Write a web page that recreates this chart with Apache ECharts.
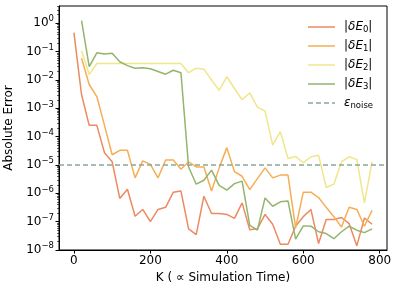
<!DOCTYPE html>
<html>
<head>
<meta charset="utf-8">
<script src="https://cdn.jsdelivr.net/npm/echarts@6/dist/echarts.min.js"></script>
<style>
html,body{margin:0;padding:0;background:#fff;}
#chart{width:399px;height:292px;}
</style>
</head>
<body>
<div id="chart"></div>
<script>
const kValues = [0,20,40,60,80,100,120,140,160,180,200,220,240,260,280,300,320,340,360,380,400,420,440,460,480,500,520,540,560,580,600,620,640,660,680,700,720,740,760,780];
const errE0 = [4.7e-1,3.0e-3,2.5e-4,2.5e-4,2.7e-5,1.3e-5,6.6e-7,1.4e-6,1.55e-7,2.7e-7,1.0e-7,2.7e-7,3.2e-7,1.1e-6,1.2e-6,5.6e-8,3.5e-8,7.9e-7,1.95e-7,1.95e-7,1.8e-7,1.3e-7,4.6e-7,5.2e-8,5.6e-8,1.8e-7,8.1e-8,1.6e-8,1.6e-8,6.9e-8,1.5e-7,2.7e-7,1.7e-8,1.2e-7,1.2e-7,1.4e-7,8.5e-8,1.4e-8,1.35e-7,8.1e-8];
const errE1 = [null,5.8e-2,6.9e-3,2.6e-3,2.5e-4,2.3e-5,3.3e-5,3.3e-5,3.5e-6,1.4e-5,1.05e-5,3.5e-6,1.5e-5,1.5e-5,7.1e-6,1.3e-5,8.5e-6,8.5e-6,1.2e-6,7.9e-6,4.1e-5,5.8e-6,4.0e-6,1.35e-6,3.3e-6,7.9e-6,3.5e-6,4.4e-6,4.4e-6,6.0e-8,1.1e-6,1.1e-6,7.1e-7,3.2e-7,1.5e-7,6.5e-8,3.2e-7,2.7e-7,6.9e-8,2.5e-7];
const errE2 = [null,1.07e-1,1.55e-2,3.8e-2,3.8e-2,3.8e-2,3.8e-2,3.8e-2,3.8e-2,3.8e-2,3.8e-2,3.8e-2,3.8e-2,3.8e-2,3.8e-2,1.8e-2,2.6e-2,2.4e-2,1.0e-2,4.3e-3,1.3e-2,5.0e-3,2.0e-3,3.5e-3,1.1e-3,7.9e-4,5.0e-5,1.5e-4,1.7e-5,2.0e-5,1.2e-5,1.95e-5,2.2e-5,1.6e-6,2.1e-6,1.3e-5,1.95e-5,1.55e-5,4.6e-7,1.3e-5];
const errE3 = [null,1.23,2.95e-2,9.1e-2,8.3e-2,8.7e-2,4.4e-2,3.2e-2,2.6e-2,2.7e-2,2.5e-2,2.0e-2,1.6e-2,2.2e-2,1.8e-2,8.5e-6,2.1e-6,2.9e-6,6.6e-6,1.9e-6,1.3e-6,2.2e-6,2.7e-6,7.4e-8,5.0e-8,6.9e-7,3.5e-7,5.0e-7,5.4e-7,2.4e-8,7.1e-8,6.9e-8,4.4e-8,3.8e-8,2.5e-8,4.4e-8,6.9e-8,5.0e-8,4.1e-8,5.6e-8];
const noiseLevel = 1e-5;
const xLimits = [-39, 819];
const yLimits = [1e-8, 4.07];
const xTickLabels = [0,200,400,600,800];
const yMajorTicks = [1e-8,1e-7,1e-6,1e-5,1e-4,1e-3,1e-2,1e-1,1e0];
const yMinorTicks = [];
[-8,-7,-6,-5,-4,-3,-2,-1,0].forEach(function(e){ for (let m=2;m<=9;m++){ const v=m*Math.pow(10,e); if (v<yLimits[1]) yMinorTicks.push(v);} });

const seriesNames = ['E0','E1','E2','E3'];
const seriesColors = ['#EC8A62','#F5AE55','#F0E68C','#93B56B'];
const noiseColor = '#8BA899';
const seriesData = [errE0, errE1, errE2, errE3];

const FONT = 'DejaVu Sans';
function pairs(vals){ return kValues.map(function(k,i){ return [k, vals[i]]; }).filter(function(p){ return p[1]!=null; }); }

const chart = echarts.init(document.getElementById('chart'), null, {renderer:'canvas'});
const series = seriesNames.map(function(n,i){
  return {name:n, type:'line', data:pairs(seriesData[i]), symbol:'none', showSymbol:false,
    lineStyle:{color:seriesColors[i], width:1.5}, itemStyle:{color:seriesColors[i]}, z:2+i, animation:false};
});
series.push({name:'noise', type:'line', data:[[xLimits[0], noiseLevel],[xLimits[1], noiseLevel]], symbol:'none',
  lineStyle:{color:noiseColor, width:1.3, type:[5,3]}, itemStyle:{color:noiseColor},
  animation:false, z:10});

const solidIcon = 'path://M0 0H27V1.5H0Z';
const dashIcon = 'path://M0 0H5V1.5H0Z M8 0H13V1.5H8Z M16 0H21V1.5H16Z M24 0H27V1.5H24Z';

const option = {
  animation:false,
  textStyle:{fontFamily:FONT},
  grid:{left:59, top:6, right:12, bottom:42, show:true, borderColor:'#000', borderWidth:1, containLabel:false, outerBoundsMode:'none'},
  legend:{orient:'vertical', left:303, top:14, itemWidth:27, itemHeight:1.5, itemGap:3,
    data:[{name:'E0',icon:solidIcon},{name:'E1',icon:solidIcon},{name:'E2',icon:solidIcon},{name:'E3',icon:solidIcon},{name:'noise',icon:dashIcon}],
    textStyle:{fontFamily:FONT, fontSize:12, color:'#000', lineHeight:16, padding:[0,0,0,4],
      rich:{it:{fontFamily:FONT, fontStyle:'italic', fontSize:12, lineHeight:16}, sub:{fontFamily:FONT, fontSize:8.5, padding:[6,0,0,0], lineHeight:16}, n:{fontFamily:FONT,fontSize:12, lineHeight:16}}},
    formatter:function(name){
      if (name==='noise') return '{it|ε}{sub|noise}';
      return '{n||}{it|δE}{sub|'+name.slice(1)+'}{n||}';
    }
  },
  xAxis:{type:'value', min:xLimits[0], max:xLimits[1],
    name:'K ( ∝ Simulation Time)', nameLocation:'middle', nameGap:22,
    nameTextStyle:{fontFamily:FONT, fontSize:12, color:'#000'},
    axisLine:{show:true, onZero:false, lineStyle:{color:'#000', width:1}},
    axisTick:{show:true, length:3.5, lineStyle:{color:'#000'}, customValues:xTickLabels},
    axisLabel:{color:'#000', fontSize:12, fontFamily:FONT, margin:5, customValues:xTickLabels},
    splitLine:{show:false}},
  yAxis:[{type:'log', logBase:10, min:yLimits[0], max:yLimits[1],
    name:'Absolute Error', nameLocation:'middle', nameGap:38,
    nameTextStyle:{fontFamily:FONT, fontSize:12, color:'#000'},
    axisLine:{show:true, onZero:false, lineStyle:{color:'#000', width:1}},
    axisTick:{show:true, length:3.5, lineStyle:{color:'#000'}, customValues:yMajorTicks},
    axisLabel:{color:'#000', fontFamily:FONT, margin:5, customValues:yMajorTicks,
      formatter:function(v){ const e=Math.round(Math.log10(v)); return '{b|10}{e|'+(e<0?'−'+(-e):e)+'}'; },
      rich:{b:{fontSize:12, fontFamily:FONT, color:'#000'}, e:{fontSize:8.5, fontFamily:FONT, color:'#000', padding:[0,0,8,0]}}},
    splitLine:{show:false}},
   {type:'log', logBase:10, min:yLimits[0], max:yLimits[1], position:'left',
    axisLine:{show:false, onZero:false},
    axisTick:{show:true, length:2, lineStyle:{color:'#000', width:0.6}, customValues:yMinorTicks},
    axisLabel:{show:false}, splitLine:{show:false}}],
  series:series
};
chart.setOption(option);
</script>
</body>
</html>
